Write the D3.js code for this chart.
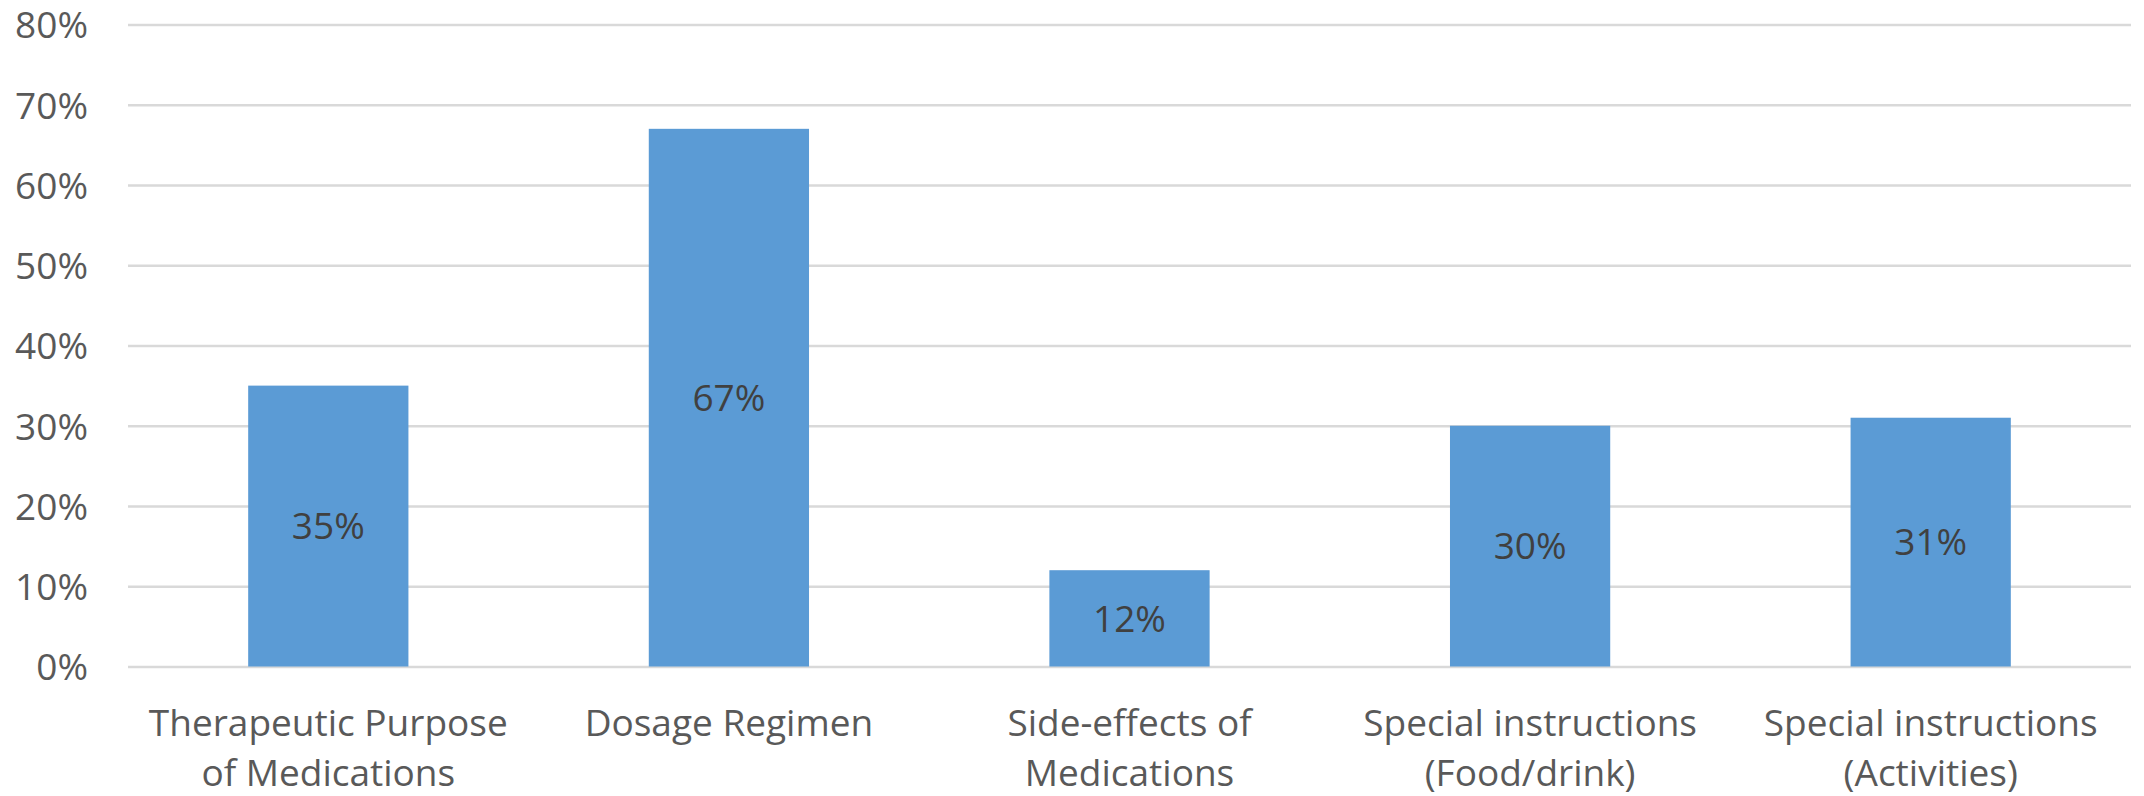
<!DOCTYPE html>
<html>
<head>
<meta charset="utf-8">
<script src="https://cdn.jsdelivr.net/npm/d3@7"></script>
<style>
  html, body { margin: 0; padding: 0; background: #ffffff; }
  svg { display: block; }
  text { font-family: "Open Sans", "DejaVu Sans", sans-serif; }
</style>
</head>
<body>
<div id="chart"></div>
<script>
// ---- data ----
const categories = [
  "Therapeutic Purpose\nof Medications",
  "Dosage Regimen",
  "Side-effects of\nMedications",
  "Special instructions\n(Food/drink)",
  "Special instructions\n(Activities)"
];
const values = [0.35, 0.67, 0.12, 0.30, 0.31];
const yTicks = [0, 0.1, 0.2, 0.3, 0.4, 0.5, 0.6, 0.7, 0.8];

// ---- layout ----
const W = 2144, H = 796;
const margin = { top: 24.5, right: 13, bottom: 129.5, left: 128 };
const innerW = W - margin.left - margin.right;
const innerH = H - margin.top - margin.bottom;

const svg = d3.select("#chart").append("svg")
  .attr("width", W).attr("height", H);

const g = svg.append("g").attr("transform", `translate(${margin.left},${margin.top})`);

const x = d3.scaleBand().domain(categories).range([0, innerW])
  .paddingInner(0.6).paddingOuter(0.3);
const y = d3.scaleLinear().domain([0, 0.8]).range([innerH, 0]);

// y axis with gridlines
const yAxis = d3.axisLeft(y).tickValues(yTicks)
  .tickFormat(d3.format(".0%"))
  .tickSize(-innerW).tickPadding(40);
const ya = g.append("g").call(yAxis);
ya.select(".domain").remove();
ya.selectAll(".tick line").attr("stroke", "#d9d9d9").attr("stroke-width", 2.5);
ya.selectAll(".tick text")
  .attr("fill", "#595959").attr("font-size", 37).attr("dy", "0.36em")
  .attr("font-family", "'Open Sans', sans-serif");

// bars
g.selectAll("rect.bar").data(values).enter().append("rect")
  .attr("class", "bar")
  .attr("x", (d, i) => x(categories[i]))
  .attr("width", x.bandwidth())
  .attr("y", d => y(d))
  .attr("height", d => y(0) - y(d))
  .attr("fill", "#5b9bd5");

// data labels
g.selectAll("text.val").data(values).enter().append("text")
  .attr("class", "val")
  .attr("x", (d, i) => x(categories[i]) + x.bandwidth() / 2)
  .attr("y", d => (y(d) + y(0)) / 2)
  .attr("dy", "0.36em")
  .attr("text-anchor", "middle")
  .attr("font-size", 37)
  .attr("fill", "#404040")
  .text(d => d3.format(".0%")(d));

// category labels
const cl = g.selectAll("text.cat").data(categories).enter().append("text")
  .attr("class", "cat")
  .attr("text-anchor", "middle")
  .attr("font-size", 37)
  .attr("fill", "#595959")
  .attr("transform", d => `translate(${x(d) + x.bandwidth() / 2},${innerH + 69})`);
cl.selectAll("tspan").data(d => d.split("\n")).enter().append("tspan")
  .attr("x", 0)
  .attr("y", (d, i) => i * 50)
  .text(d => d);
</script>
</body>
</html>
